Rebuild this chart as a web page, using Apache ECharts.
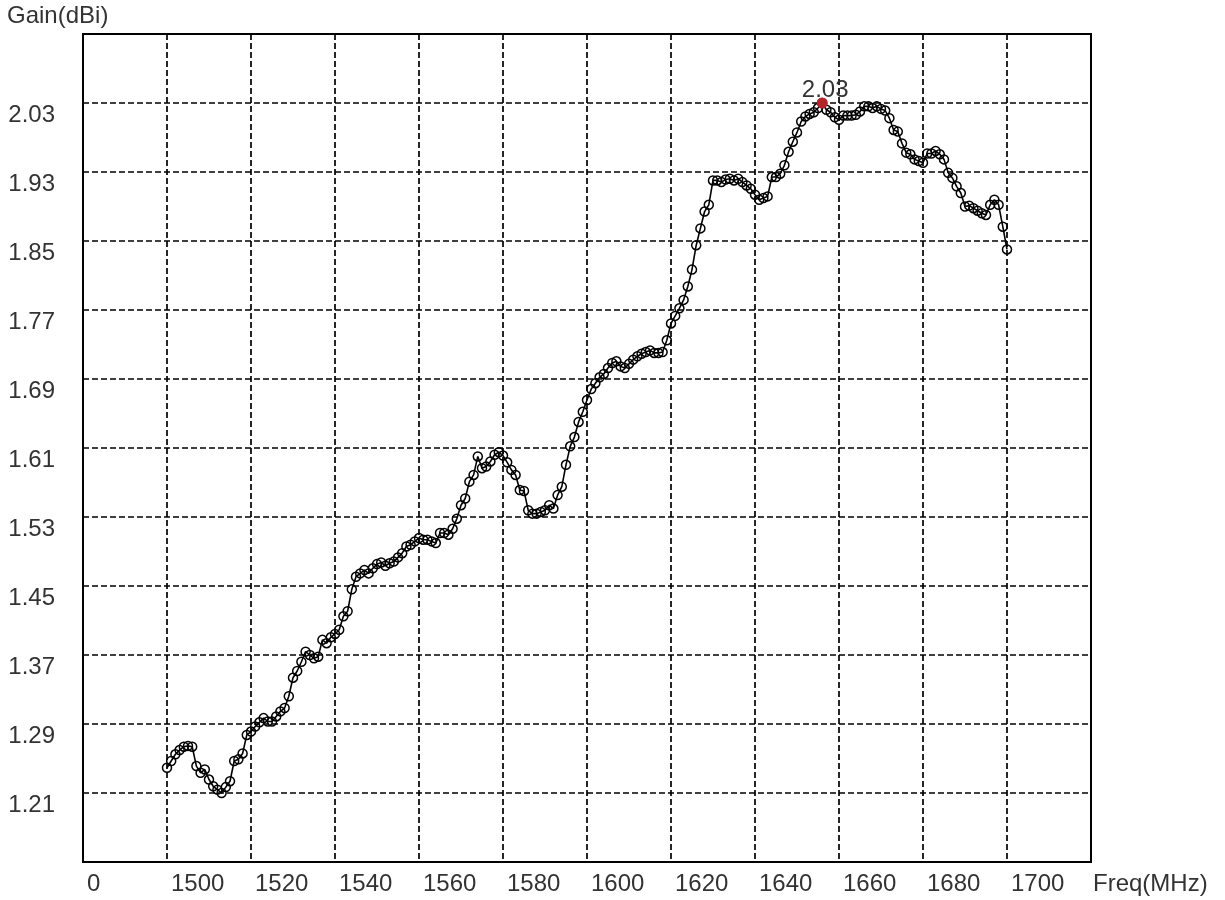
<!DOCTYPE html>
<html>
<head>
<meta charset="utf-8">
<script src="https://cdn.jsdelivr.net/npm/echarts@6/dist/echarts.min.js"></script>
<style>
  html, body { margin: 0; padding: 0; background: #fff; }
  #chart { width: 1225px; height: 900px; }
</style>
</head>
<body>
<div id="chart"></div>
<script>
// Frequencies (MHz)
const freq = [
  1500,1501,1502,1503,1504,1505,1506,1507,1508,1509,1510,1511,1512,1513,1514,1515,1516,1517,1518,1519,
  1520,1521,1522,1523,1524,1525,1526,1527,1528,1529,1530,1531,1532,1533,1534,1535,1536,1537,1538,1539,
  1540,1541,1542,1543,1544,1545,1546,1547,1548,1549,1550,1551,1552,1553,1554,1555,1556,1557,1558,1559,
  1560,1561,1562,1563,1564,1565,1566,1567,1568,1569,1570,1571,1572,1573,1574,1575,1576,1577,1578,1579,
  1580,1581,1582,1583,1584,1585,1586,1587,1588,1589,1590,1591,1592,1593,1594,1595,1596,1597,1598,1599,
  1600,1601,1602,1603,1604,1605,1606,1607,1608,1609,1610,1611,1612,1613,1614,1615,1616,1617,1618,1619,
  1620,1621,1622,1623,1624,1625,1626,1627,1628,1629,1630,1631,1632,1633,1634,1635,1636,1637,1638,1639,
  1640,1641,1642,1643,1644,1645,1646,1647,1648,1649,1650,1651,1652,1653,1654,1655,1656,1657,1658,1659,
  1660,1661,1662,1663,1664,1665,1666,1667,1668,1669,1670,1671,1672,1673,1674,1675,1676,1677,1678,1679,
  1680,1681,1682,1683,1684,1685,1686,1687,1688,1689,1690,1691,1692,1693,1694,1695,1696,1697,1698,1699,
  1700
];
// Gain (dBi)
const gain = [
  1.240,1.248,1.256,1.261,1.265,1.266,1.265,1.242,1.234,1.238,1.226,1.218,1.214,1.210,1.217,1.224,1.248,1.250,1.257,1.279,
  1.283,1.289,1.294,1.299,1.295,1.295,1.301,1.307,1.311,1.325,1.347,1.355,1.366,1.378,1.374,1.370,1.372,1.392,1.388,1.395,
  1.399,1.404,1.420,1.426,1.452,1.467,1.471,1.475,1.471,1.477,1.482,1.484,1.480,1.483,1.485,1.490,1.495,1.503,1.505,1.509,
  1.513,1.511,1.511,1.509,1.507,1.519,1.519,1.517,1.524,1.536,1.552,1.560,1.580,1.588,1.610,1.596,1.598,1.604,1.612,1.615,
  1.611,1.603,1.594,1.588,1.570,1.569,1.546,1.542,1.542,1.544,1.546,1.552,1.548,1.564,1.574,1.600,1.622,1.633,1.651,1.663,
  1.677,1.690,1.697,1.704,1.708,1.715,1.721,1.723,1.717,1.715,1.720,1.725,1.729,1.732,1.734,1.736,1.733,1.733,1.734,1.748,
  1.768,1.777,1.786,1.796,1.812,1.832,1.861,1.881,1.901,1.909,1.938,1.938,1.936,1.939,1.940,1.938,1.940,1.936,1.932,1.928,
  1.921,1.915,1.917,1.919,1.942,1.942,1.946,1.956,1.972,1.984,1.995,2.008,2.014,2.017,2.019,2.024,2.030,2.022,2.019,2.013,
  2.010,2.015,2.015,2.015,2.016,2.020,2.026,2.026,2.024,2.026,2.023,2.021,2.012,1.998,1.996,1.982,1.971,1.969,1.963,1.961,
  1.959,1.970,1.970,1.973,1.969,1.963,1.947,1.941,1.931,1.923,1.907,1.908,1.905,1.902,1.899,1.897,1.909,1.915,1.909,1.883,
  1.856
];
// Tick labels as printed on the original chart
const xTickLabels = ['0','1500','1520','1540','1560','1580','1600','1620','1640','1660','1680','1700',''];
const yTickLabels = ['', '1.21','1.29','1.37','1.45','1.53','1.61','1.69','1.77','1.85','1.93','2.03',''];

// Axis extents
const xMin = 1480, xMax = 1720, xStep = 20;
const yMin = 1.128, yMax = 2.112, yStep = 0.082;

const FONT = "'Liberation Sans', Arial, sans-serif";
const TEXT_COLOR = '#333';

const chart = echarts.init(document.getElementById('chart'), null, { renderer: 'canvas' });
const seriesData = freq.map((f, i) => [f, gain[i]]);

chart.setOption({
  animation: false,
  backgroundColor: '#fff',
  textStyle: { fontFamily: FONT },
  title: {
    text: 'Gain(dBi)',
    left: 7, top: 4, padding: 0,
    textStyle: { fontFamily: FONT, fontSize: 24, fontWeight: 'normal', color: TEXT_COLOR, lineHeight: 24 }
  },
  grid: {
    left: 83, right: 134, top: 34, bottom: 38,
    show: true, borderColor: '#000', borderWidth: 2, backgroundColor: '#fff'
  },
  xAxis: {
    type: 'value',
    min: xMin, max: xMax, interval: xStep,
    name: 'Freq(MHz)',
    nameLocation: 'end',
    nameGap: 2,
    nameTextStyle: { fontFamily: FONT, fontSize: 24, color: TEXT_COLOR, align: 'left', verticalAlign: 'top', lineHeight: 24, padding: [10, 0, 0, 0] },
    axisLine: { show: false },
    axisTick: { show: false },
    axisLabel: {
      show: true, margin: 10, align: 'left', verticalAlign: 'top',
      padding: [0, 0, 0, 4],
      fontFamily: FONT, fontSize: 24, lineHeight: 24, color: TEXT_COLOR,
      showMinLabel: true, showMaxLabel: true,
      formatter: function (v) {
        const idx = Math.round((v - xMin) / xStep);
        return xTickLabels[idx] !== undefined ? xTickLabels[idx] : '';
      }
    },
    splitLine: { show: true, lineStyle: { color: '#000', width: 1.7, type: [6, 3] } }
  },
  yAxis: {
    type: 'value',
    min: yMin, max: yMax, interval: yStep,
    axisLine: { show: false },
    axisTick: { show: false },
    axisLabel: {
      show: true, margin: 28, align: 'right', verticalAlign: 'top',
      fontFamily: FONT, fontSize: 24, lineHeight: 24, color: TEXT_COLOR,
      showMinLabel: true, showMaxLabel: true,
      formatter: function (v) {
        const idx = Math.round((v - yMin) / yStep);
        return yTickLabels[idx] !== undefined ? yTickLabels[idx] : '';
      }
    },
    splitLine: { show: true, lineStyle: { color: '#000', width: 1.7, type: [6, 3] } }
  },
  series: [{
    type: 'line',
    data: seriesData,
    symbol: 'circle',
    symbolSize: 9,
    showAllSymbol: true,
    lineStyle: { color: '#000', width: 1.6 },
    itemStyle: { color: 'rgba(0,0,0,0)', borderColor: '#000', borderWidth: 1.5 },
    emphasis: { disabled: true },
    markPoint: {
      symbol: 'circle',
      symbolSize: 11,
      silent: true,
      itemStyle: { color: '#b3242b', borderColor: '#b3242b', borderWidth: 0 },
      label: {
        show: true, position: 'top', distance: 0, offset: [3, 5],
        fontFamily: FONT, fontSize: 24, lineHeight: 24, color: TEXT_COLOR,
        formatter: function (p) { return Number(p.value).toFixed(2); }
      },
      data: [{ type: 'max', name: 'peak' }]
    }
  }]
});
</script>
</body>
</html>
